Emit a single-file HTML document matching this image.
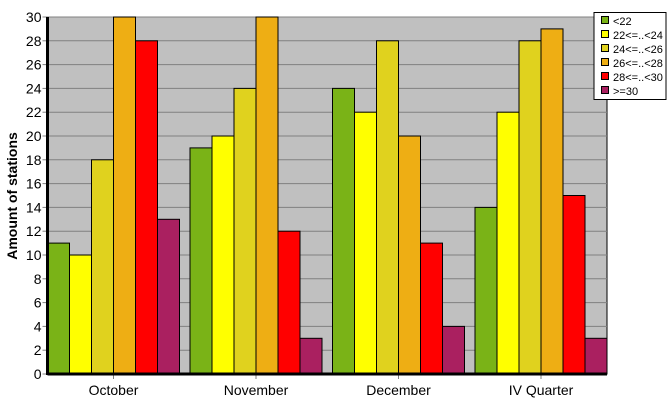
<!DOCTYPE html>
<html><head><meta charset="utf-8"><style>
body{margin:0;background:#fff;width:667px;height:415px;overflow:hidden}
svg{font-family:"Liberation Sans",Arial,sans-serif}
</style></head><body>
<svg id="c" width="667" height="415" xmlns="http://www.w3.org/2000/svg"></svg>
<script>
const categories=["October","November","December","IV Quarter"];
const seriesNames=["<22","22<=..<24","24<=..<26","26<=..<28","28<=..<30",">=30"];
const s0=[11,19,24,14];
const s1=[10,20,22,22];
const s2=[18,24,28,28];
const s3=[30,30,20,29];
const s4=[28,12,11,15];
const s5=[13,3,4,3];
const series=[s0,s1,s2,s3,s4,s5];
const colors=["#7ab317","#ffff00","#e0d21e","#eeae14","#ff0000","#aa2060"];
const yTicks=[0,2,4,6,8,10,12,14,16,18,20,22,24,26,28,30];
const NS="http://www.w3.org/2000/svg";
const svg=document.getElementById('c');
const L=47.5,R=607,T=17,B=374,ymax=30;
const bw=22,pitch=(R-L-6*bw)/3;
const y=v=>B-(v/ymax)*(B-T);
const xg=i=>L+i*pitch;
function mk(t,a,p){const e=document.createElementNS(NS,t);for(const k in a)e.setAttribute(k,a[k]);(p||svg).appendChild(e);return e;}
let bg=mk('rect',{x:L,y:T,width:R-L,height:B-T,fill:'#c0c0c0',stroke:'#000','stroke-width':1});


yTicks.forEach(v=>{
 if(v>0){let g=mk('line',{x1:L,x2:R,y1:y(v),y2:y(v),stroke:'#808080','stroke-width':1});
 
 }
 let tk=mk('line',{x1:L-5,x2:L,y1:y(v),y2:y(v),stroke:'#808080'});
 
 
 let t=mk('text',{x:L-6,y:y(v)+5,'text-anchor':'end','font-size':14,fill:'#000'});
 t.textContent=v;
 
 
});
categories.forEach((c,i)=>{
 series.forEach((s,j)=>{
  let r=mk('rect',{x:xg(i)+j*bw,y:y(s[i]),width:bw,height:B-y(s[i]),fill:colors[j],stroke:'#000','stroke-width':1});
  
  
 });
 const cx=xg(i)+3*bw;
 let tk=mk('line',{x1:cx,x2:cx,y1:B,y2:B+5,stroke:'#808080'});
 
 
 let t=mk('text',{x:cx,y:395,'text-anchor':'middle','font-size':14,fill:'#000'});
 t.textContent=c;
 
 
});
let ax=mk('line',{x1:L,x2:R,y1:B,y2:B,stroke:'#000','stroke-width':3});


let ay=mk('line',{x1:L,x2:L,y1:T,y2:B+1,stroke:'#000','stroke-width':3});


let yt=mk('text',{x:17,y:196,'text-anchor':'middle','font-size':14,'font-weight':'bold',transform:'rotate(-90 17 196)'});
yt.textContent='Amount of stations';


let lg=mk('g',{});


mk('rect',{x:594,y:12.5,width:72,height:87,fill:'#fff',stroke:'#000'},lg);
seriesNames.forEach((n,j)=>{
 const yy=21+j*14;
 let b=mk('rect',{x:601.5,y:yy-4.5,width:7,height:7,fill:colors[j],stroke:'#000'},lg);
 
 
 let t=mk('text',{x:613,y:yy+4,'font-size':11},lg);
 t.textContent=n;
 
 
});
</script>
</body></html>
